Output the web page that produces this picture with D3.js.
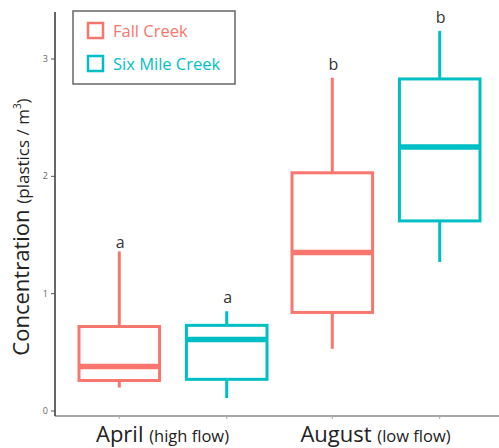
<!DOCTYPE html>
<meta charset="utf-8">
<style>
body { margin: 0; background: #fff; }
text { font-family: "Open Sans", "Noto Sans", sans-serif; }
</style>
<body>
<script src="https://d3js.org/d3.v7.min.js"></script>
<script>

// Chart data
var months = ["April", "August"];
var monthNotes = ["(high flow)", "(low flow)"];
var creeks = ["Fall Creek", "Six Mile Creek"];
var colors = ["#F8766D", "#00BFC4"];
// box stats per month, per creek: [whiskerLow, q1, median, q3, whiskerHigh]
var fallStats = [[0.20, 0.26, 0.38, 0.72, 1.36], [0.53, 0.84, 1.35, 2.03, 2.84]];
var sixStats  = [[0.11, 0.27, 0.61, 0.73, 0.85], [1.27, 1.62, 2.25, 2.83, 3.24]];
var fallLetters = ["a", "b"], sixLetters = ["a", "b"];
var fallLetterY = [1.39, 2.91], sixLetterY = [0.92, 3.31];
var yTicks = [0, 1, 2, 3];

var W = 499, H = 448;
var svg = d3.select("body").append("svg").attr("width", W).attr("height", H);

var x0 = d3.scaleBand().domain(months).range([66, 492]);
var x1 = d3.scaleBand().domain(creeks).range([13, 201]).paddingInner(0.25);
var y = d3.scaleLinear().domain([0, 3]).range([411, 59]);

// build box rows
var boxes = [];
months.forEach(function(m, i) {
  boxes.push({month: m, creek: creeks[0], s: fallStats[i], letter: fallLetters[i], ly: fallLetterY[i], color: colors[0]});
  boxes.push({month: m, creek: creeks[1], s: sixStats[i], letter: sixLetters[i], ly: sixLetterY[i], color: colors[1]});
});

// axes
svg.append("line").attr("x1", 55).attr("x2", W).attr("y1", 416).attr("y2", 416)
  .attr("stroke", "#888").attr("stroke-width", 1.5);
svg.append("line").attr("x1", 55).attr("x2", 55).attr("y1", 12).attr("y2", 416)
  .attr("stroke", "#333").attr("stroke-width", 1.5);

var yt = svg.selectAll(".ytick").data(yTicks).enter().append("g")
  .attr("transform", function(d) { return "translate(0," + y(d) + ")"; });
yt.append("line").attr("x1", 51).attr("x2", 55).attr("stroke", "#555");
yt.append("text").attr("x", 48).attr("dy", "0.35em").attr("text-anchor", "end")
  .attr("font-size", 9).attr("fill", "#666").text(function(d) { return d; });

// boxes
var g = svg.selectAll(".box").data(boxes).enter().append("g")
  .attr("transform", function(d) { return "translate(" + (x0(d.month) + x1(d.creek)) + ",0)"; });
var bw = x1.bandwidth();

g.append("line").attr("x1", bw / 2).attr("x2", bw / 2)
  .attr("y1", function(d) { return y(d.s[4]); }).attr("y2", function(d) { return y(d.s[3]); })
  .attr("stroke", function(d) { return d.color; }).attr("stroke-width", 3);
g.append("line").attr("x1", bw / 2).attr("x2", bw / 2)
  .attr("y1", function(d) { return y(d.s[1]); }).attr("y2", function(d) { return y(d.s[0]); })
  .attr("stroke", function(d) { return d.color; }).attr("stroke-width", 3);
g.append("rect").attr("x", 0).attr("width", bw)
  .attr("y", function(d) { return y(d.s[3]); })
  .attr("height", function(d) { return y(d.s[1]) - y(d.s[3]); })
  .attr("fill", "none").attr("stroke", function(d) { return d.color; }).attr("stroke-width", 3);
g.append("line").attr("x1", 0).attr("x2", bw)
  .attr("y1", function(d) { return y(d.s[2]); }).attr("y2", function(d) { return y(d.s[2]); })
  .attr("stroke", function(d) { return d.color; }).attr("stroke-width", 5.5);
g.append("line").attr("x1", bw / 2).attr("x2", bw / 2).attr("y1", 416).attr("y2", 419)
  .attr("stroke", "#aaa");
g.append("text").attr("x", bw / 2 + 1).attr("y", function(d) { return y(d.ly); })
  .attr("text-anchor", "middle").attr("font-size", 16).attr("fill", "#333")
  .text(function(d) { return d.letter; });

// x category labels
var xl = svg.selectAll(".xlab").data(months).enter().append("text")
  .attr("x", function(d) { return x0(d) + x0.bandwidth() / 2 - 10; })
  .attr("y", 442).attr("text-anchor", "middle").attr("fill", "#222");
xl.append("tspan").attr("font-size", 22).text(function(d) { return d + " "; });
xl.append("tspan").attr("font-size", 16.5).text(function(d, i) { return monthNotes[i]; });

// y axis title
var yl = svg.append("text").attr("transform", "translate(29,227) rotate(-90)")
  .attr("text-anchor", "middle").attr("fill", "#222");
yl.append("tspan").attr("font-size", 22).text("Concentration ");
yl.append("tspan").attr("font-size", 17).text("(plastics / m");
yl.append("tspan").attr("font-size", 10).attr("dy", -8).text("3");
yl.append("tspan").attr("font-size", 17).attr("dy", 8).text(")");

// legend
var lg = svg.append("g");
lg.append("rect").attr("x", 73).attr("y", 11).attr("width", 162).attr("height", 73)
  .attr("fill", "#fff").attr("stroke", "#666").attr("stroke-width", 1.5);
var li = lg.selectAll(".li").data(creeks).enter().append("g")
  .attr("transform", function(d, i) { return "translate(88," + (23 + i * 33) + ")"; });
li.append("rect").attr("width", 15).attr("height", 15).attr("fill", "none")
  .attr("stroke", function(d, i) { return colors[i]; }).attr("stroke-width", 2.5);
li.append("text").attr("x", 25).attr("y", 8).attr("dy", "0.35em").attr("font-size", 16.5)
  .attr("fill", function(d, i) { return colors[i]; }).text(function(d) { return d; });

</script>
</body>
